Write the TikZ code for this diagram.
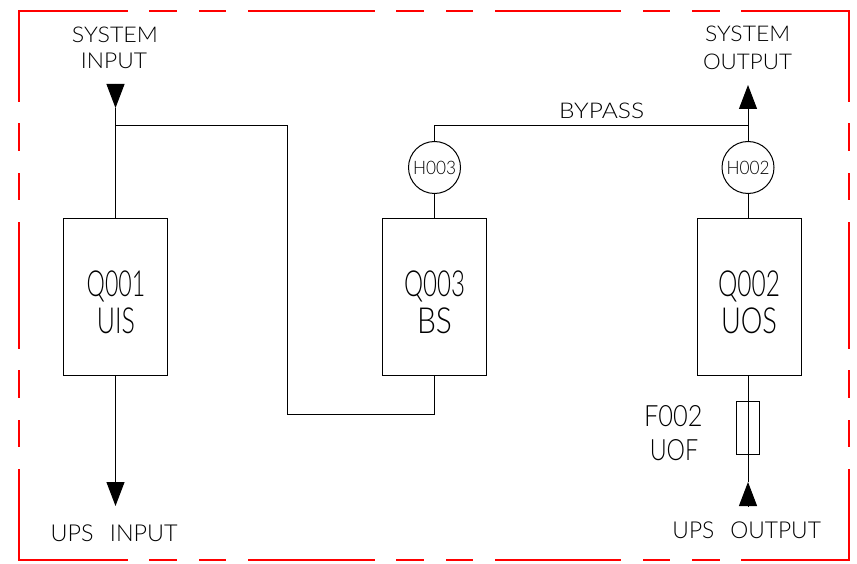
\documentclass[tikz,border=0pt]{standalone}
\usepackage{fontspec}
\usepackage{graphicx}
\newfontfamily\cadfont{Lato Light}
\usetikzlibrary{arrows.meta}
\newcommand{\cadtx}[3]{\resizebox{#1pt}{#2pt}{\cadfont #3}}
\begin{document}
\begin{tikzpicture}[x=1pt,y=-1pt,
  wire/.style={line width=1pt, black},
  box/.style={draw, line width=1pt, minimum width=104pt, minimum height=156pt, inner sep=0pt},
  meter/.style={draw, circle, line width=1pt, minimum size=52pt, inner sep=0pt},
  fuse/.style={draw, line width=1pt, minimum width=23.6pt, minimum height=52.6pt, inner sep=0pt},
  lbl/.style={inner sep=0pt, anchor=base},
  cadframe/.style={red, line width=2pt, line cap=rect, dash pattern=on 124.6pt off 23.5pt on 25.5pt off 24pt on 25.5pt off 23.5pt},
  flowtip/.style={-{Triangle[width=18pt,length=24pt]}},
]
\useasboundingbox (0,0) rectangle (857,564);
\fill[white] (0,0) rectangle (857,564);

% frame
\coordinate (ftl) at (18.5,11);
\coordinate (ftr) at (849,11);
\coordinate (fbl) at (18.5,559.5);
\coordinate (fbr) at (849,559.5);
\draw[cadframe, dash phase=16.2pt] (ftl) -- (ftr);
\draw[cadframe, dash phase=16.2pt] (fbl) -- (fbr);
\draw[cadframe, dash phase=34.6pt] (ftl) -- (fbl);
\draw[cadframe, dash phase=34.6pt] (ftr) -- (fbr);

% switches
\node[box] (Q001) at (115.5,297) {};
\node[box] (Q003) at (434.5,297) {};
\node[box] (Q002) at (749,297) {};
\node[meter] (H003) at (434.5,167.5) {};
\node[meter] (H002) at (748,167.5) {};
\node[fuse] (F002) at (748,428) {};

% labels
\node[lbl] (sin1) at (115,42.3) {\cadtx{86}{15.5}{SYSTEM}};
\node[lbl] (sin2) at (114,68.3) {\cadtx{66}{15.5}{INPUT}};
\node[lbl] (sout1) at (747.7,41.7) {\cadtx{85}{15.5}{SYSTEM}};
\node[lbl] (sout2) at (747.5,69.5) {\cadtx{89}{15.5}{OUTPUT}};
\node[lbl] (bypass) at (601.7,119) {\cadtx{85}{15.5}{BYPASS}};
\node[lbl] (H003t) at (434.5,174.3) {\cadtx{43}{13.3}{H003}};
\node[lbl] (H002t) at (748,174.3) {\cadtx{43}{13.3}{H002}};
\node[lbl] (Q001a) at (116,296.7) {\cadtx{58.6}{25.7}{Q001}};
\node[lbl] (Q001b) at (116,333) {\cadtx{38}{25.7}{UIS}};
\node[lbl] (Q003a) at (434.5,296.7) {\cadtx{61}{25.7}{Q003}};
\node[lbl] (Q003b) at (434.5,333) {\cadtx{35}{25.7}{BS}};
\node[lbl] (Q002a) at (749,296.7) {\cadtx{62}{25.7}{Q002}};
\node[lbl] (Q002b) at (749,333) {\cadtx{56}{25.7}{UOS}};
\node[lbl] (F002a) at (673.3,426.7) {\cadtx{58.5}{21}{F002}};
\node[lbl] (F002b) at (674,460) {\cadtx{48.5}{21}{UOF}};
\node[lbl] (upsin) at (114.2,541) {\cadtx{127}{16.7}{UPS\hspace{0.7em}INPUT}};
\node[lbl] (upsout) at (746.7,538.3) {\cadtx{148.5}{16.7}{UPS\hspace{0.7em}OUTPUT}};

% connectors
\coordinate (inA) at (115.5,84);
\coordinate (inB) at (115.5,108);
\coordinate (inJ) at (115.5,126);
\coordinate (c1) at (287.5,126);
\coordinate (c2) at (287.5,414.5);
\coordinate (c3) at (434.5,414.5);
\coordinate (upsinTip) at (115.5,506);
\coordinate (bpJ) at (748,126);
\coordinate (soTip) at (748,85);
\coordinate (uoTip) at (748,482);
\coordinate (uoBase) at (748,506);

\draw[wire, flowtip] (inA) -- (inB);
\draw[wire] (inB) -- (Q001.north);
\draw[wire] (inJ) -- (c1) -- (c2) -- (c3) -- (Q003.south);
\draw[wire, flowtip] (Q001.south) -- (upsinTip);
\draw[wire] (H003.south) -- (Q003.north);
\draw[wire] (H003.north) |- (bpJ);
\draw[wire, flowtip] (H002.north) -- (soTip);
\draw[wire] (H002.south) -- (H002.south |- Q002.north);
\draw[wire] (uoTip |- Q002.south) -- (uoTip);
\draw[wire, flowtip] (uoBase) -- (uoTip);
\end{tikzpicture}
\end{document}
